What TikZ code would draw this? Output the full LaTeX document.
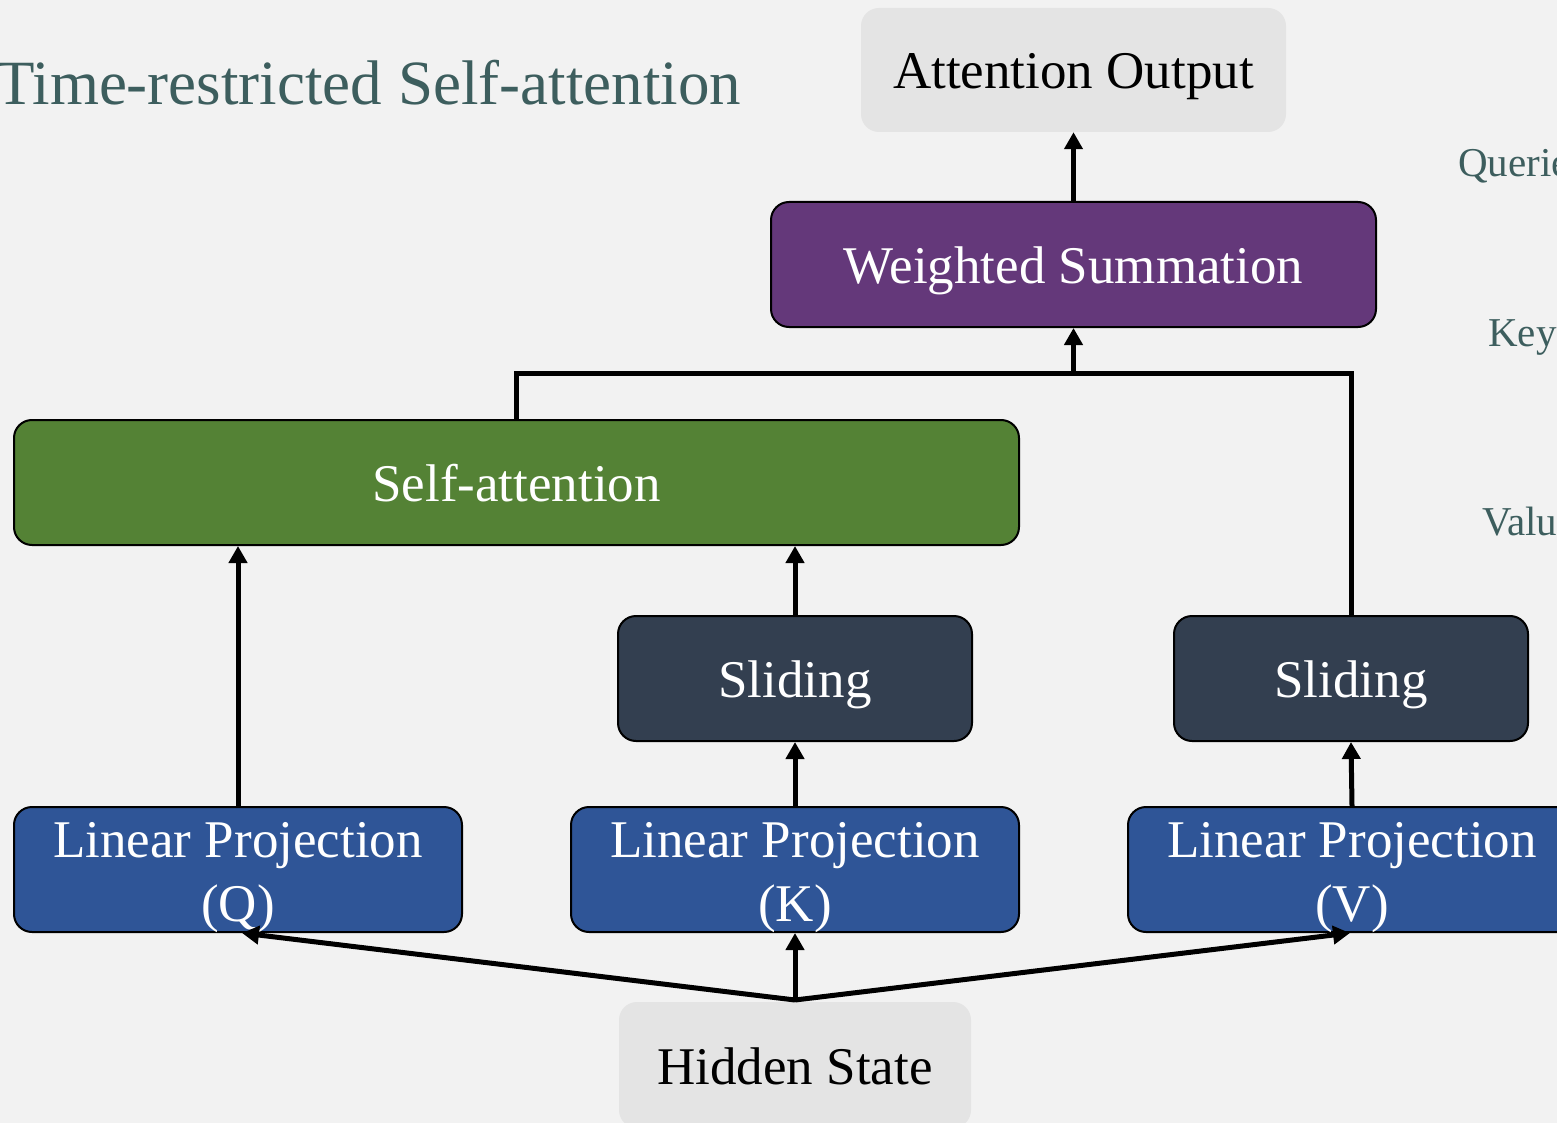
\documentclass[tikz,border=0pt]{standalone}
\usepackage{fontspec}
\setmainfont{Liberation Serif}
\usetikzlibrary{arrows.meta}

\definecolor{bgc}{HTML}{F2F2F2}
\definecolor{palebox}{HTML}{E4E4E4}
\definecolor{wsum}{HTML}{64387A}
\definecolor{selfatt}{HTML}{548235}
\definecolor{slide}{HTML}{333F50}
\definecolor{proj}{HTML}{2F5597}
\definecolor{titlec}{HTML}{3D5E5E}

\tikzset{
  box/.style={rectangle, rounded corners=18pt, inner sep=0pt, align=center,
    font=\fontsize{53}{64}\selectfont, text height=46pt, text depth=8pt},
  twoline/.style={text height=112pt, text depth=8pt},
  solidbox/.style={box, draw=black, line width=2pt, text=white},
  palebox/.style={box, fill=palebox, text=black},
  conn/.style={line width=5pt, black},
  arr/.style={conn, -{Triangle[length=17pt,width=18pt]}},
  sidelabel/.style={anchor=base west, inner sep=0pt, text=titlec,
    font=\fontsize{41}{48}\selectfont},
}

\begin{document}
\begin{tikzpicture}[x=1pt, y=-1pt]
  \useasboundingbox (0,0) rectangle (1557,1123);
  \clip (0,0) rectangle (1557,1123);
  \fill[bgc] (0,0) rectangle (1557,1123);

  % title and side labels
  \node[anchor=base west, inner sep=0pt, text=titlec,
        font=\fontsize{63}{70}\selectfont] (title) at (-4,105) {Time-restricted Self-attention};
  \node[sidelabel] (lq) at (1458,177) {Queries};
  \node[sidelabel] (lk) at (1488,346) {Keys};
  \node[sidelabel] (lv) at (1482,535) {Values};

  % boxes
  \node[palebox, minimum width=425pt, minimum height=124pt] (out) at (1073.5,70) {Attention Output};
  \node[solidbox, fill=wsum, minimum width=605pt, minimum height=125pt] (ws) at (1073.5,264.5) {Weighted Summation};
  \node[solidbox, fill=selfatt, minimum width=1005pt, minimum height=125pt] (sa) at (516.5,482.5) {Self-attention};
  \node[solidbox, fill=slide, minimum width=354pt, minimum height=125pt] (slk) at (795,678.5) {Sliding};
  \node[solidbox, fill=slide, minimum width=354pt, minimum height=125pt] (slv) at (1351,678.5) {Sliding};
  \node[solidbox, twoline, fill=proj, minimum width=448pt, minimum height=125pt] (lpq) at (238,869.5) {Linear Projection\\(Q)};
  \node[solidbox, twoline, fill=proj, minimum width=448pt, minimum height=125pt] (lpk) at (795,869.5) {Linear Projection\\(K)};
  \node[solidbox, twoline, fill=proj, minimum width=448pt, minimum height=125pt] (lpv) at (1352,869.5) {Linear Projection\\(V)};
  \node[palebox, minimum width=352pt, minimum height=126pt] (hs) at (795,1065) {Hidden State};

  % hidden state fans out to the three projections
  \coordinate (hsplit) at (795,1000);
  \draw[arr] (hsplit) -- ([xshift=4pt]lpq.south);
  \draw[arr] (hsplit) -- (lpk.south);
  \draw[arr] (hsplit) -- ([xshift=-2pt]lpv.south);

  % projections upward
  \draw[arr] (lpq.north) -- (lpq.north |- sa.south);
  \draw[arr] (lpk.north) -- (slk.south);
  \draw[arr] (slk.north) -- (slk.north |- sa.south);
  \draw[arr] (lpv.north) -- (slv.south);

  % merge into weighted summation
  \coordinate (merge) at (1073.5,373);
  \draw[conn, line join=miter] (sa.north) |- (merge);
  \draw[conn, line join=miter] (slv.north) |- (merge);
  \draw[arr] (merge) -- (ws.south);
  \draw[arr] (ws.north) -- (out.south);
\end{tikzpicture}
\end{document}
